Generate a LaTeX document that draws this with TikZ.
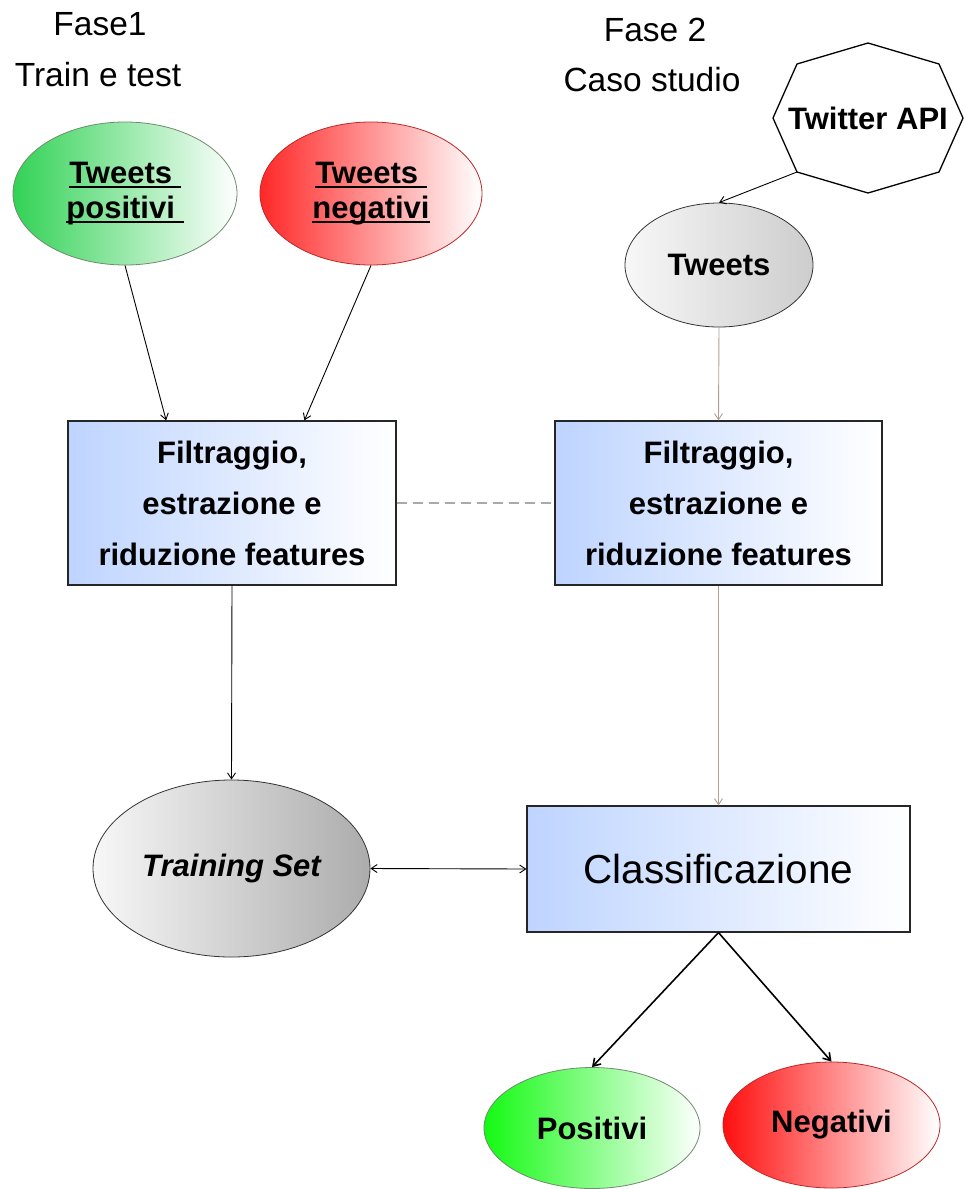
\documentclass[tikz,border=0pt]{standalone}
\usepackage{fontspec}
\setmainfont{Liberation Sans}
\usetikzlibrary{shapes.geometric,arrows.meta,calc}
\definecolor{gposA}{RGB}{50,210,85}
\definecolor{gposB}{RGB}{20,250,20}
\definecolor{gbord}{RGB}{110,140,110}
\definecolor{rnegA}{RGB}{255,40,40}
\definecolor{rnegB}{RGB}{255,15,15}
\definecolor{rbord}{RGB}{190,40,40}
\definecolor{boxl}{RGB}{190,212,255}
\definecolor{grayA}{RGB}{205,205,205}
\definecolor{grayB}{RGB}{172,172,172}
\definecolor{tanc}{RGB}{175,160,145}
\definecolor{dashg}{RGB}{170,170,170}
\newcommand\myul[1]{\setbox0\hbox{#1}\rlap{\rule[-5pt]{\wd0}{2.6pt}}\box0}
\begin{document}
\begin{tikzpicture}[x=1pt,y=-1pt,
  hdr/.style={font=\fontsize{33.5}{38}\selectfont, inner sep=0pt},
  ell/.style={ellipse, inner sep=0pt, line width=0.8pt, align=center,
              font=\fontsize{31}{35}\selectfont\bfseries},
  boxn/.style={rectangle, draw=black!85, line width=1.2pt, left color=boxl,
               right color=white, align=center, inner sep=0pt},
  arr/.style={-{Straight Barb[length=6pt,width=8pt]}, line width=0.9pt},
  arrb/.style={-{Straight Barb[length=7pt,width=9pt]}, line width=1.6pt}
]
\useasboundingbox[fill=white] (0,0) rectangle (966,1189);

% headers
\node[hdr] (h1) at (100,24) {Fase1};
\node[hdr] (h2) at (98,75) {Train e test};
\node[hdr] (h3) at (655,30) {Fase 2};
\node[hdr] (h4) at (652,80) {Caso studio};

% top ellipses
\node[ell, minimum width=224, minimum height=143, left color=gposA,
      right color=white, draw=gbord] (tpos) at (125,193.5)
      {\myul{Tweets\ }\\\myul{positivi\ }};
\node[ell, minimum width=222, minimum height=143, left color=rnegA,
      right color=white, draw=rbord] (tneg) at (371,193.5)
      {\myul{Tweets\ }\\\myul{negativi}};

% Twitter API octagon
\coordinate (apic) at (868,118);
\coordinate (apibl) at (797,172);
\draw[line width=1.3pt, line join=miter]
  (868,43) -- (939,64) -- (963,118) -- (939,172) -- (868,193)
  -- (apibl) -- (773,118) -- (797,64) -- cycle;
\node[font=\fontsize{31}{35}\selectfont\bfseries] (api) at (apic) {Twitter API};

% Tweets
\node[ell, minimum width=188, minimum height=124, left color=white!97!black,
      right color=grayA, draw=black!80] (tw) at (719,265) {Tweets};

% filter boxes
\node[boxn, minimum width=328, minimum height=164,
      font=\fontsize{31}{51}\selectfont\bfseries] (fa) at (232,503)
      {Filtraggio,\\estrazione e\\riduzione features};
\node[boxn, minimum width=327, minimum height=164,
      font=\fontsize{31}{51}\selectfont\bfseries] (fb) at (718.5,503)
      {Filtraggio,\\estrazione e\\riduzione features};

% training set
\node[ell, minimum width=277, minimum height=177, left color=white!97!black,
      right color=grayB, draw=black!80, font=\fontsize{31}{35}\selectfont\bfseries\itshape]
      (ts) at (231.5,868.5) {Training Set};

% classificazione
\node[boxn, minimum width=383, minimum height=126,
      font=\fontsize{40.5}{44}\selectfont] (cl) at (718.5,869) {Classificazione};

% result ellipses
\node[ell, minimum width=216, minimum height=121, left color=gposB,
      right color=white, draw=gbord] (pos) at (592,1128) {Positivi};
\node[ell, minimum width=217, minimum height=126, left color=rnegB,
      right color=white, draw=rbord] (neg) at (831.5,1125) {Negativi};

% connectors
\draw[arr] (tpos.south) -- ($(fa.north west)!0.30!(fa.north east)$);
\draw[arr] (tneg.south) -- ($(fa.north west)!0.72!(fa.north east)$);
\draw[arr] (apibl) -- (tw.north);
\draw[arr, draw=tanc] (tw.south) -- (fb.north);
\draw[dashg, dashed, dash pattern=on 10pt off 6pt, line width=1.5pt] (fa.east) -- (fb.east -| fb.west);
\draw[arr] (fa.south) -- (ts.north);
\draw[arr, draw=tanc] (fb.south) -- (cl.north);
\draw[arr, {Straight Barb[length=6pt,width=8pt]}-{Straight Barb[length=6pt,width=8pt]}] (ts.east) -- (cl.west);
\draw[arrb] (cl.south) -- (pos.north);
\draw[arrb] (cl.south) -- (neg.north);
\end{tikzpicture}
\end{document}
